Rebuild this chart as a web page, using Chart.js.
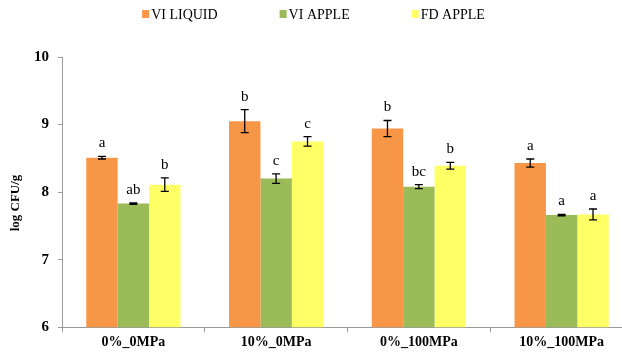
<!DOCTYPE html>
<html>
<head>
<meta charset="utf-8">
<script src="https://cdn.jsdelivr.net/npm/chart.js@4.4.0/dist/chart.umd.min.js"></script>
<style>
  html, body { margin: 0; padding: 0; background: #fff; overflow: hidden; }
  #wrap { width: 634px; height: 353px; position: relative; }
</style>
</head>
<body>
<div id="wrap"><canvas id="myChart"></canvas></div>
<script>
// datos
const categorias = ['0%_0MPa', '10%_0MPa', '0%_100MPa', '10%_100MPa'];
const series = ['VI LIQUID', 'VI APPLE', 'FD APPLE'];
const colores = ['#F79646', '#9BBB59', '#FFFF66'];

const viLiquid = [8.51, 9.05, 8.94, 8.43];
const viApple = [7.83, 8.20, 8.08, 7.66];
const fdApple = [8.11, 8.75, 8.39, 7.67];

const errLiquid = [0.02, 0.17, 0.12, 0.06];
const errApple = [0.01, 0.07, 0.03, 0.01];
const errFd = [0.10, 0.07, 0.05, 0.08];

const letrasLiquid = ['a', 'b', 'b', 'a'];
const letrasApple = ['ab', 'c', 'bc', 'a'];
const letrasFd = ['b', 'c', 'b', 'a'];

const yTicks = [6, 7, 8, 9, 10];
const tituloY = 'log CFU/g';

const valores = [viLiquid, viApple, fdApple];
const errores = [errLiquid, errApple, errFd];
const letras = [letrasLiquid, letrasApple, letrasFd];

const fuente = "'Liberation Serif', 'Times New Roman', serif";

//Plugin para barras de error y letras
const errorBars = {
  id: 'errorBars',
  afterDatasetsDraw(chart) {
    const ctx = chart.ctx;
    const y = chart.scales.y;
    ctx.save();
    chart.data.datasets.forEach((ds, d) => {
      const meta = chart.getDatasetMeta(d);
      meta.data.forEach((bar, k) => {
        const v = ds.data[k];
        const e = errores[d][k];
        const yTop = y.getPixelForValue(v + e);
        const yBot = y.getPixelForValue(v - e);
        const x = bar.x;
        ctx.strokeStyle = '#000';
        ctx.lineWidth = 1.3;
        ctx.beginPath();
        ctx.moveTo(x, yTop); ctx.lineTo(x, yBot);
        ctx.moveTo(x - 4, yTop); ctx.lineTo(x + 4, yTop);
        ctx.moveTo(x - 4, yBot); ctx.lineTo(x + 4, yBot);
        ctx.stroke();
        ctx.fillStyle = '#000';
        ctx.font = '15px ' + fuente;
        ctx.textAlign = 'center';
        ctx.textBaseline = 'alphabetic';
        ctx.fillText(letras[d][k], x, yTop - 9);
      });
    });
    ctx.restore();
  }
};

//Plugin para la leyenda y el titulo del eje y
const leyenda = {
  id: 'leyenda',
  afterDraw(chart) {
    const ctx = chart.ctx;
    ctx.save();
    ctx.font = '14px ' + fuente;
    ctx.textBaseline = 'alphabetic';
    ctx.textAlign = 'left';
    const anchos = chart.data.datasets.map(ds => 10 + ctx.measureText(ds.label).width);
    const gap = 61;
    let total = anchos.reduce((a, b) => a + b, 0) + gap * (anchos.length - 1);
    let x = 314 - total / 2;
    chart.data.datasets.forEach((ds, d) => {
      ctx.fillStyle = ds.backgroundColor;
      ctx.fillRect(x, 10, 7, 8);
      ctx.fillStyle = '#000';
      ctx.fillText(ds.label, x + 9, 19);
      x += anchos[d] + gap;
    });

    // titulo del eje y
    ctx.translate(16, 203);
    ctx.rotate(-Math.PI / 2);
    ctx.font = 'bold 13px ' + fuente;
    ctx.textAlign = 'center';
    ctx.textBaseline = 'middle';
    ctx.fillText(tituloY, 0, 0);
    ctx.restore();
  }
};

let barGraph = new Chart(document.getElementById('myChart'), {
  type: 'bar',
  data: {
    labels: categorias,
    datasets: series.map((s, d) => ({
      label: s,
      data: valores[d],
      backgroundColor: colores[d],
      borderWidth: 0,
      categoryPercentage: 0.66,
      barPercentage: 1.0
    }))
  },
  plugins: [errorBars, leyenda],
  options: {
    responsive: true,
    maintainAspectRatio: false,
    animation: false,
    layout: { padding: { top: 57, left: 31, right: 1, bottom: 0 } },
    plugins: {
      legend: { display: false },
      tooltip: { enabled: false }
    },
    scales: {
      x: {
        offset: true,
        grid: { display: true, offset: true, drawOnChartArea: false, color: '#9a9a9a', tickLength: 5 },
        border: { color: '#9a9a9a', width: 1 },
        ticks: { color: '#000', font: { family: fuente, size: 14, weight: 'bold' }, padding: 2 }
      },
      y: {
        min: 6,
        max: 10,
        afterBuildTicks: (axis) => { axis.ticks = yTicks.map(v => ({ value: v })); },
        afterFit: (axis) => { axis.width = 31; },
        grid: { display: true, drawOnChartArea: false, color: '#9a9a9a', tickLength: 4 },
        border: { color: '#9a9a9a', width: 1 },
        ticks: { color: '#000', font: { family: fuente, size: 15, weight: 'bold' }, padding: 9 }
      }
    }
  }
});
</script>
</body>
</html>
